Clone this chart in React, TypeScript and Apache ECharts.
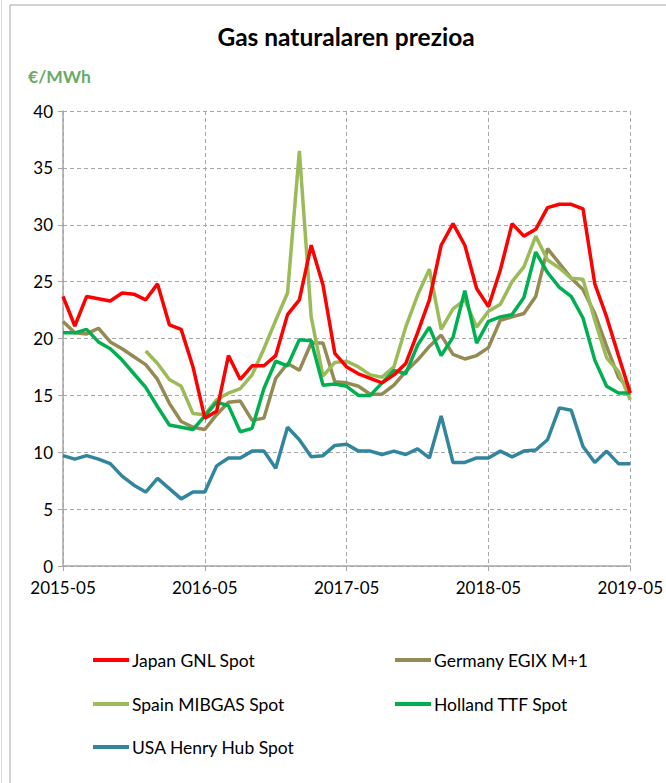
import React, { useEffect, useRef } from "react";
import * as echarts from "echarts";

const startYear = 2015;
const startMonth = 5;
const monthCount = 49;
const months: string[] = [];
for (let i = 0; i < monthCount; i++) {
  const m = startMonth - 1 + i;
  const y = startYear + Math.floor(m / 12);
  const mm = (m % 12) + 1;
  months.push(`${y}-${mm < 10 ? "0" + mm : mm}`);
}

const japan = [23.7, 21.1, 23.7, 23.5, 23.3, 24.0, 23.9, 23.4, 24.8, 21.2, 20.8, 17.5, 13.0, 13.6, 18.5, 16.4, 17.6, 17.6, 18.5, 22.1, 23.4, 28.2, 24.7, 18.7, 17.5, 16.9, 16.5, 16.1, 16.8, 17.8, 20.5, 23.4, 28.2, 30.1, 28.2, 24.4, 22.8, 26.0, 30.1, 29.0, 29.6, 31.5, 31.8, 31.8, 31.4, 24.8, 21.9, 18.5, 15.2];
const germany = [21.5, 20.5, 20.4, 20.9, 19.7, 19.1, 18.4, 17.7, 16.4, 14.3, 12.7, 12.2, 12.0, 13.3, 14.4, 14.5, 12.8, 13.0, 16.5, 17.8, 17.2, 19.6, 19.6, 16.2, 16.1, 15.8, 15.1, 15.1, 15.9, 17.1, 18.1, 19.3, 20.3, 18.6, 18.2, 18.5, 19.2, 21.6, 21.9, 22.2, 23.7, 27.9, 26.6, 25.3, 24.3, 22.2, 19.3, 16.6, 15.5];
const spain = [null, null, null, null, null, null, null, 18.9, 17.8, 16.4, 15.8, 13.4, 13.3, 14.6, 15.2, 15.6, 16.8, 19.1, 21.6, 24.0, 36.5, 21.9, 16.7, 17.9, 18.0, 17.5, 16.8, 16.6, 17.5, 21.0, 23.8, 26.1, 20.8, 22.6, 23.4, 21.0, 22.4, 23.0, 25.0, 26.3, 29.0, 26.9, 26.2, 25.3, 25.2, 21.6, 18.3, 17.1, 14.6];
const holland = [20.5, 20.5, 20.8, 19.7, 19.1, 18.1, 16.9, 15.7, 14.0, 12.4, 12.2, 12.0, 13.2, 14.4, 14.1, 11.8, 12.1, 15.6, 18.0, 17.6, 19.9, 19.8, 15.9, 16.0, 15.8, 15.0, 15.0, 16.1, 17.2, 16.9, 19.4, 21.0, 18.5, 20.1, 24.2, 19.6, 21.5, 21.9, 22.1, 23.6, 27.6, 25.8, 24.5, 23.7, 21.8, 18.1, 15.8, 15.2, 15.2];
const usa = [9.7, 9.4, 9.7, 9.4, 9.0, 7.9, 7.1, 6.5, 7.7, 6.8, 5.9, 6.5, 6.5, 8.8, 9.5, 9.5, 10.1, 10.1, 8.6, 12.2, 11.1, 9.6, 9.7, 10.6, 10.7, 10.1, 10.1, 9.8, 10.1, 9.8, 10.3, 9.5, 13.2, 9.1, 9.1, 9.5, 9.5, 10.1, 9.6, 10.1, 10.2, 11.1, 13.9, 13.7, 10.5, 9.1, 10.1, 9.0, 9.0];

const seriesNames = ["Japan GNL Spot", "Germany EGIX M+1", "Spain MIBGAS Spot", "Holland TTF Spot", "USA Henry Hub Spot"];
const seriesColors = ["#ff0000", "#948a54", "#9bbb59", "#00b050", "#31859c"];
const seriesData = [japan, germany, spain, holland, usa];
const legendPos = [
  { left: 93, top: 651 },
  { left: 395, top: 651 },
  { left: 93, top: 695 },
  { left: 395, top: 695 },
  { left: 93, top: 738 },
];

const FONT = "Lato, 'Open Sans', sans-serif";

export default function App() {
  const ref = useRef<HTMLDivElement>(null);
  useEffect(() => {
    if (!ref.current) return;
    const chart = echarts.init(ref.current, undefined, { renderer: "svg", width: 666, height: 783 });
    const drawOrder = [1, 2, 3, 4, 0];
    chart.setOption({
      animation: false,
      backgroundColor: "#ffffff",
      textStyle: { fontFamily: FONT },
      title: {
        text: "Gas naturalaren prezioa",
        left: 341,
        textAlign: "center",
        top: 19,
        textStyle: { fontFamily: FONT, fontSize: 24.5, fontWeight: "bold", color: "#000" },
      },
      graphic: [
        {
          type: "rect",
          shape: { x: 10, y: 5, width: 700, height: 800 },
          style: { fill: "none", stroke: "#a6a6a6", lineWidth: 1 },
          silent: true,
        },
        {
          type: "line",
          shape: { x1: 1.5, y1: 0, x2: 1.5, y2: 783 },
          style: { stroke: "#d9d9d9", lineWidth: 1 },
          silent: true,
        },
        {
          type: "text",
          left: 28,
          top: 67,
          style: { text: "€/MWh", fontFamily: FONT, fontSize: 17.5, fontWeight: "bold", fill: "#6aaa64" },
        },
      ],
      legend: seriesNames.map((n, i) => ({
        data: [n],
        left: legendPos[i].left,
        top: legendPos[i].top,
        icon: "rect",
        itemWidth: 36,
        itemHeight: 4,
        itemGap: 0,
        textStyle: { fontFamily: FONT, fontSize: 17.5, color: "#000", padding: [0, 0, 0, -2] },
        padding: 0,
        selectedMode: false,
      })),
      grid: { left: 63, width: 571.5, top: 111, height: 455, containLabel: false },
      xAxis: {
        type: "category",
        data: months,
        boundaryGap: false,
        axisLine: { lineStyle: { color: "#a6a6a6", width: 1.5 } },
        axisTick: { show: true, interval: 11, length: 5, lineStyle: { color: "#a6a6a6" } },
        axisLabel: { interval: 11, fontFamily: FONT, fontSize: 17, color: "#000", margin: 13 },
        splitLine: { show: true, interval: 11, lineStyle: { color: "#a6a6a6", type: [4, 3] } },
      },
      yAxis: {
        type: "value",
        min: 0,
        max: 40,
        interval: 5,
        axisLine: { show: true, lineStyle: { color: "#a6a6a6", width: 1.5 } },
        axisTick: { show: true, length: 5, lineStyle: { color: "#a6a6a6" } },
        axisLabel: { fontFamily: FONT, fontSize: 17, color: "#000", margin: 10 },
        splitLine: { show: true, lineStyle: { color: "#a6a6a6", type: [4, 3] } },
      },
      series: drawOrder.map((i) => ({
        name: seriesNames[i],
        type: "line",
        data: seriesData[i],
        symbol: "none",
        color: seriesColors[i],
        lineStyle: { width: 3.5, color: seriesColors[i] },
        connectNulls: false,
      })),
    });
    return () => chart.dispose();
  }, []);
  return (
    <div
      ref={ref}
      style={{ position: "absolute", left: 0, top: 0, width: 666, height: 783 }}
    />
  );
}
